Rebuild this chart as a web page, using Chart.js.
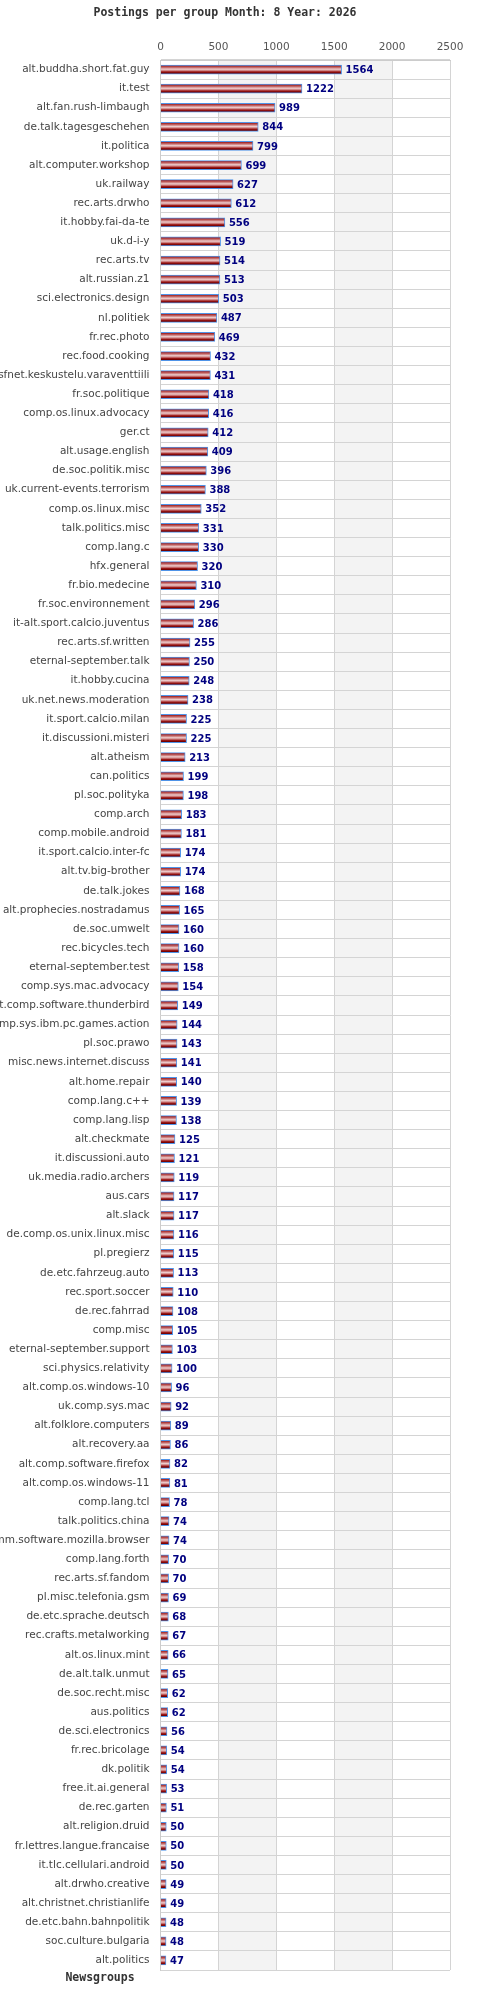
<!DOCTYPE html>
<html>
<head>
<meta charset="utf-8">
<script src="https://cdn.jsdelivr.net/npm/chart.js@4.4.1/dist/chart.umd.min.js"></script>
<style>
html,body{margin:0;padding:0;background:#fff;}
#wrap{position:relative;width:480px;height:2000px;}
</style>
</head>
<body>
<div id="wrap"><canvas id="c" width="480" height="2000"></canvas></div>
<script>
const chartTitle = "Postings per group Month: 8 Year: 2026";
const axisTitle = "Newsgroups";
const groups = [
"alt.buddha.short.fat.guy","it.test","alt.fan.rush-limbaugh","de.talk.tagesgeschehen","it.politica",
"alt.computer.workshop","uk.railway","rec.arts.drwho","it.hobby.fai-da-te","uk.d-i-y",
"rec.arts.tv","alt.russian.z1","sci.electronics.design","nl.politiek","fr.rec.photo",
"rec.food.cooking","sfnet.keskustelu.varaventtiili","fr.soc.politique","comp.os.linux.advocacy","ger.ct",
"alt.usage.english","de.soc.politik.misc","uk.current-events.terrorism","comp.os.linux.misc","talk.politics.misc",
"comp.lang.c","hfx.general","fr.bio.medecine","fr.soc.environnement","it-alt.sport.calcio.juventus",
"rec.arts.sf.written","eternal-september.talk","it.hobby.cucina","uk.net.news.moderation","it.sport.calcio.milan",
"it.discussioni.misteri","alt.atheism","can.politics","pl.soc.polityka","comp.arch",
"comp.mobile.android","it.sport.calcio.inter-fc","alt.tv.big-brother","de.talk.jokes","alt.prophecies.nostradamus",
"de.soc.umwelt","rec.bicycles.tech","eternal-september.test","comp.sys.mac.advocacy","alt.comp.software.thunderbird",
"comp.sys.ibm.pc.games.action","pl.soc.prawo","misc.news.internet.discuss","alt.home.repair","comp.lang.c++",
"comp.lang.lisp","alt.checkmate","it.discussioni.auto","uk.media.radio.archers","aus.cars",
"alt.slack","de.comp.os.unix.linux.misc","pl.pregierz","de.etc.fahrzeug.auto","rec.sport.soccer",
"de.rec.fahrrad","comp.misc","eternal-september.support","sci.physics.relativity","alt.comp.os.windows-10",
"uk.comp.sys.mac","alt.folklore.computers","alt.recovery.aa","alt.comp.software.firefox","alt.comp.os.windows-11",
"comp.lang.tcl","talk.politics.china","comm.software.mozilla.browser","comp.lang.forth","rec.arts.sf.fandom",
"pl.misc.telefonia.gsm","de.etc.sprache.deutsch","rec.crafts.metalworking","alt.os.linux.mint","de.alt.talk.unmut",
"de.soc.recht.misc","aus.politics","de.sci.electronics","fr.rec.bricolage","dk.politik",
"free.it.ai.general","de.rec.garten","alt.religion.druid","fr.lettres.langue.francaise","it.tlc.cellulari.android",
"alt.drwho.creative","alt.christnet.christianlife","de.etc.bahn.bahnpolitik","soc.culture.bulgaria","alt.politics"
];
const postings = [
1564,1222,989,844,799,
699,627,612,556,519,
514,513,503,487,469,
432,431,418,416,412,
409,396,388,352,331,
330,320,310,296,286,
255,250,248,238,225,
225,213,199,198,183,
181,174,174,168,165,
160,160,158,154,149,
144,143,141,140,139,
138,125,121,119,117,
117,116,115,113,110,
108,105,103,100,96,
92,89,86,82,81,
78,74,74,70,70,
69,68,67,66,65,
62,62,56,54,54,
53,51,50,50,50,
49,49,48,48,47
];
const xTicks = [0,500,1000,1500,2000,2500];

const bandPlugin = {
  id:'bands',
  beforeDraw(chart){
    const {ctx, chartArea:a, scales:{x}} = chart;
    ctx.save();
    ctx.fillStyle = '#f3f3f3';
    for (let i=1;i<xTicks.length-1;i+=2){
      const x0 = x.getPixelForValue(xTicks[i]);
      const x1 = x.getPixelForValue(xTicks[i+1]);
      ctx.fillRect(x0, a.top, x1-x0, a.bottom-a.top);
    }
    ctx.restore();
  }
};
const labelPlugin = {
  id:'vals',
  afterDatasetsDraw(chart){
    const {ctx} = chart;
    const meta = chart.getDatasetMeta(0);
    ctx.save();
    ctx.font = 'bold 10px "DejaVu Sans"';
    ctx.fillStyle = '#000080';
    ctx.textAlign = 'left';
    ctx.textBaseline = 'middle';
    meta.data.forEach((bar,i)=>{
      ctx.fillText(String(postings[i]), bar.x+4, bar.y+1);
    });
    ctx.restore();
  },
  afterDraw(chart){
    const {ctx} = chart;
    ctx.save();
    ctx.font = 'bold 11.5px "DejaVu Sans Mono"';
    ctx.fillStyle = '#333';
    ctx.textAlign = 'center';
    ctx.textBaseline = 'middle';
    ctx.fillText(axisTitle, 100, 1978);
    ctx.restore();
  }
};

function barGradient(context){
  const chart = context.chart;
  if (!chart.chartArea || context.type !== 'data') return '#c06060';
  const y = chart.scales.y.getPixelForValue(context.dataIndex);
  const g = chart.ctx.createLinearGradient(0, y-3.5, 0, y+3.5);
  g.addColorStop(0, '#a52a2a');
  g.addColorStop(0.2, '#c46a6a');
  g.addColorStop(0.45, '#eecccc');
  g.addColorStop(0.65, '#cc8080');
  g.addColorStop(0.82, '#9e1a1a');
  g.addColorStop(1, '#700000');
  return g;
}

new Chart(document.getElementById('c'), {
  type:'bar',
  data:{
    labels: groups,
    datasets:[{
      data: postings,
      backgroundColor: barGradient,
      borderColor: '#4f94e8',
      borderWidth: 1,
      borderSkipped: 'start',
      barThickness: 9
    }]
  },
  options:{
    indexAxis:'y',
    responsive:false,
    devicePixelRatio:1,
    animation:false,
    layout:{padding:{top:0,right:30,bottom:30,left:0}},
    plugins:{
      legend:{display:false},
      tooltip:{enabled:false},
      title:{
        display:true,
        text: chartTitle,
        color:'#333',
        font:{family:'"DejaVu Sans Mono"', size:11.5, weight:'bold', lineHeight:1.2},
        padding:{top:6,bottom:0}
      }
    },
    scales:{
      x:{
        position:'top',
        min:0, max:2500,
        afterBuildTicks(s){ s.ticks = xTicks.map(v=>({value:v})); },
        afterFit(s){ s.height = 40.2; },
        ticks:{color:'#555', font:{family:'"DejaVu Sans"', size:10.5}, padding:6,
               callback:(v)=>String(v)},
        grid:{color:'#d4d4d4', lineWidth:1, drawTicks:false},
        border:{display:true, color:'#cccccc'}
      },
      y:{
        afterFit(s){ s.width = 160.5; },
        ticks:{color:'#444', autoSkip:false, font:{family:'"DejaVu Sans"', size:10.5}, padding:11},
        grid:{color:'#d4d4d4', lineWidth:1, drawTicks:false, offset:true},
        border:{display:true, color:'#cccccc'}
      }
    }
  },
  plugins:[bandPlugin, labelPlugin]
});
</script>
</body>
</html>
